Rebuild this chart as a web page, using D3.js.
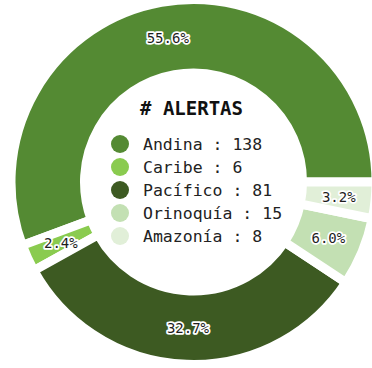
<!DOCTYPE html>
<html>
<head>
<meta charset="utf-8">
<script src="https://cdn.jsdelivr.net/npm/d3@7"></script>
<style>
  html, body { margin: 0; padding: 0; background: #ffffff; }
  svg { display: block; }
  text { font-family: "DejaVu Sans Mono", monospace; }
</style>
</head>
<body>
<svg id="chart" width="372" height="368"></svg>
<script>
// Alert counts per natural region
const regions = ["Andina", "Caribe", "Pacífico", "Orinoquía", "Amazonía"];
const alerts = [138, 6, 81, 15, 8];
const regionColors = ["#548a33", "#8acb4f", "#3d5a22", "#c3e0b3", "#e1efd8"];
const legendTitle = "# ALERTAS";

// Layout
const width = 372, height = 368;
const cx = 193.5, cy = 182;
const gap = 9;                    // white edge drawn round every wedge
const outerR = 178 + gap / 2, innerR = 113.5 - gap / 2;
const labelR = 146;

const svg = d3.select("#chart");
const g = svg.append("g").attr("transform", `translate(${cx},${cy})`);

const total = d3.sum(alerts);
const rows = regions.map((name, i) => ({ name, value: alerts[i], color: regionColors[i] }));

// Counter-clockwise from 3 o'clock: d3 angles run clockwise from 12 o'clock
const pie = d3.pie()
  .sort(null)
  .value(d => d.value)
  .startAngle(Math.PI / 2)
  .endAngle(Math.PI / 2 - 2 * Math.PI);

const arcs = pie(rows);
const arc = d3.arc().innerRadius(innerR).outerRadius(outerR);
const mid = a => (a.startAngle + a.endAngle) / 2;

g.selectAll("path.wedge")
  .data(arcs)
  .join("path")
  .attr("class", "wedge")
  .attr("d", d => arc({ startAngle: Math.min(d.startAngle, d.endAngle), endAngle: Math.max(d.startAngle, d.endAngle) }))
  .attr("fill", d => d.data.color)
  .attr("stroke", "#ffffff")
  .attr("stroke-width", gap)
  .attr("stroke-linejoin", "miter");

const fmt = d3.format(".1f");
g.selectAll("text.pct")
  .data(arcs)
  .join("text")
  .attr("class", "pct")
  .attr("x", d => Math.sin(mid(d)) * labelR)
  .attr("y", d => -Math.cos(mid(d)) * labelR)
  .attr("text-anchor", "middle")
  .attr("dominant-baseline", "central")
  .attr("font-size", 14)
  .attr("fill", "#1e1e1e")
  .attr("stroke", "#ffffff")
  .attr("stroke-width", 3.5)
  .attr("stroke-linejoin", "round")
  .attr("paint-order", "stroke")
  .text(d => fmt(d.data.value / total * 100) + "%");

// Legend in the hole
const legend = svg.append("g").attr("transform", "translate(120,0)");
legend.append("text")
  .attr("x", 20)
  .attr("y", 115)
  .attr("font-size", 19)
  .attr("font-weight", "bold")
  .attr("fill", "#111111")
  .text(legendTitle);

const items = legend.selectAll("g.item")
  .data(rows)
  .join("g")
  .attr("class", "item")
  .attr("transform", (d, i) => `translate(0,${144 + i * 23})`);

items.append("circle")
  .attr("r", 9)
  .attr("fill", d => d.color);

items.append("text")
  .attr("x", 23)
  .attr("dy", "0.36em")
  .attr("font-size", 16.5)
  .attr("fill", "#222222")
  .text(d => `${d.name} : ${d.value}`);
</script>
</body>
</html>
